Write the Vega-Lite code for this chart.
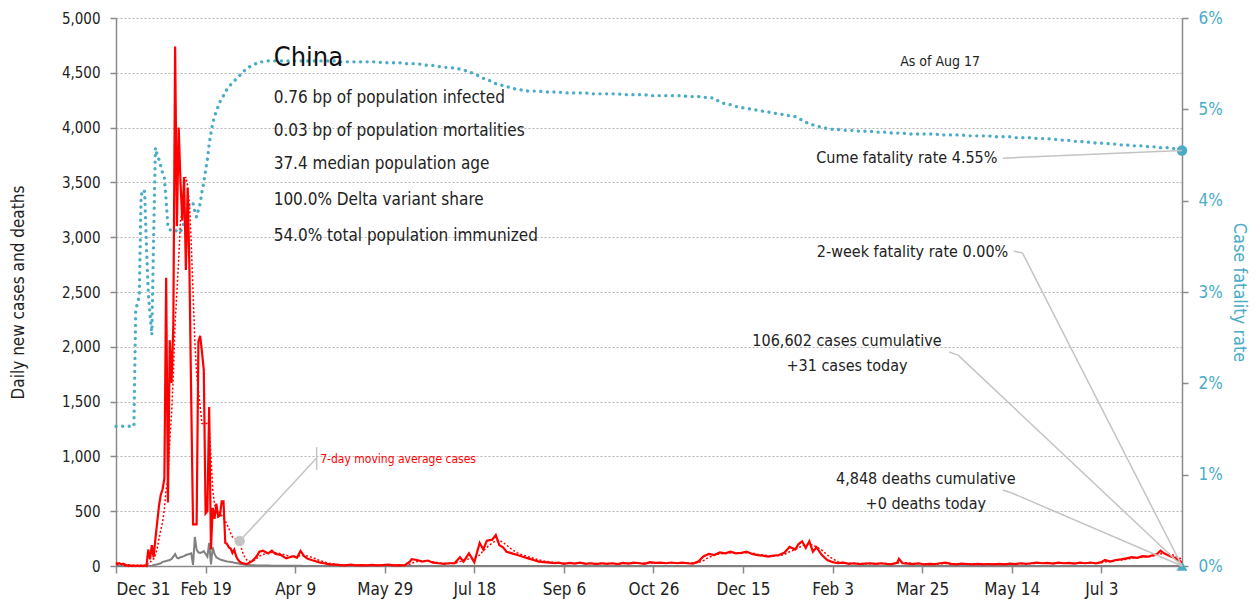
{
  "$schema": "https://vega.github.io/schema/vega-lite/v6.json",
  "width": 1066,
  "height": 548,
  "autosize": {"type": "none"},
  "padding": {"left": 116, "top": 18, "right": 76, "bottom": 39},
  "background": "white",
  "config": {
    "font": "DejaVu Sans Condensed, DejaVu Sans, sans-serif",
    "view": {"stroke": null},
    "axis": {"labelColor": "#222", "titleColor": "#222", "titleFontWeight": "normal", "domainColor": "#8a8a8a", "tickColor": "#8a8a8a", "domainWidth": 1.5, "tickWidth": 1.5}
  },
  "datasets": {
    "daily": [
      {"date": "2019-12-31", "cases": 30, "ma7": 10, "deaths": 0, "cfr": 1.53},
      {"date": "2020-01-01", "cases": 20, "ma7": 15, "deaths": 0, "cfr": 1.53},
      {"date": "2020-01-02", "cases": 25, "ma7": 20, "deaths": 0, "cfr": 1.53},
      {"date": "2020-01-03", "cases": 15, "ma7": 20, "deaths": 0, "cfr": 1.53},
      {"date": "2020-01-04", "cases": 20, "ma7": 22, "deaths": 0, "cfr": 1.53},
      {"date": "2020-01-05", "cases": 5, "ma7": 18, "deaths": 0, "cfr": 1.53},
      {"date": "2020-01-06", "cases": 8, "ma7": 15, "deaths": 0, "cfr": 1.53},
      {"date": "2020-01-07", "cases": 0, "ma7": 12, "deaths": 0, "cfr": 1.53},
      {"date": "2020-01-08", "cases": 5, "ma7": 8, "deaths": 0, "cfr": 1.53},
      {"date": "2020-01-09", "cases": 0, "ma7": 5, "deaths": 0, "cfr": 1.53},
      {"date": "2020-01-10", "cases": 5, "ma7": 4, "deaths": 0, "cfr": 1.53},
      {"date": "2020-01-11", "cases": 0, "ma7": 3, "deaths": 0, "cfr": 2.8},
      {"date": "2020-01-12", "cases": 5, "ma7": 3, "deaths": 0, "cfr": 2.88},
      {"date": "2020-01-13", "cases": 0, "ma7": 2, "deaths": 0, "cfr": 2.95},
      {"date": "2020-01-14", "cases": 5, "ma7": 2, "deaths": 0, "cfr": 4.05},
      {"date": "2020-01-15", "cases": 0, "ma7": 2, "deaths": 0, "cfr": 4.12},
      {"date": "2020-01-16", "cases": 5, "ma7": 2, "deaths": 0, "cfr": 4.1},
      {"date": "2020-01-17", "cases": 0, "ma7": 2, "deaths": 0, "cfr": 3.5},
      {"date": "2020-01-18", "cases": 150, "ma7": 22, "deaths": 0, "cfr": 3.0},
      {"date": "2020-01-19", "cases": 60, "ma7": 30, "deaths": 0, "cfr": 2.75},
      {"date": "2020-01-20", "cases": 190, "ma7": 55, "deaths": 0, "cfr": 2.53},
      {"date": "2020-01-21", "cases": 80, "ma7": 65, "deaths": 10, "cfr": 3.6},
      {"date": "2020-01-22", "cases": 250, "ma7": 100, "deaths": 12, "cfr": 4.58},
      {"date": "2020-01-23", "cases": 400, "ma7": 160, "deaths": 15, "cfr": 4.5},
      {"date": "2020-01-24", "cases": 550, "ma7": 250, "deaths": 20, "cfr": 4.45},
      {"date": "2020-01-25", "cases": 650, "ma7": 330, "deaths": 25, "cfr": 4.38},
      {"date": "2020-01-26", "cases": 700, "ma7": 400, "deaths": 38, "cfr": 4.3},
      {"date": "2020-01-27", "cases": 800, "ma7": 520, "deaths": 42, "cfr": 4.25},
      {"date": "2020-01-28", "cases": 2630, "ma7": 700, "deaths": 45, "cfr": 4.0},
      {"date": "2020-01-29", "cases": 580, "ma7": 790, "deaths": 50, "cfr": 3.72},
      {"date": "2020-01-30", "cases": 2060, "ma7": 1130, "deaths": 55, "cfr": 3.68},
      {"date": "2020-01-31", "cases": 1670, "ma7": 1390, "deaths": 65, "cfr": 3.68},
      {"date": "2020-02-01", "cases": 2200, "ma7": 1740, "deaths": 85, "cfr": 3.69},
      {"date": "2020-02-02", "cases": 4740, "ma7": 2220, "deaths": 110, "cfr": 3.68},
      {"date": "2020-02-03", "cases": 3100, "ma7": 2500, "deaths": 75, "cfr": 3.66},
      {"date": "2020-02-04", "cases": 4000, "ma7": 2800, "deaths": 70, "cfr": 3.65},
      {"date": "2020-02-05", "cases": 3500, "ma7": 3150, "deaths": 80, "cfr": 3.66},
      {"date": "2020-02-06", "cases": 3150, "ma7": 3250, "deaths": 85, "cfr": 3.7},
      {"date": "2020-02-07", "cases": 3550, "ma7": 3480, "deaths": 90, "cfr": 3.76},
      {"date": "2020-02-08", "cases": 2700, "ma7": 3550, "deaths": 100, "cfr": 3.82},
      {"date": "2020-02-09", "cases": 3450, "ma7": 3470, "deaths": 105, "cfr": 3.9},
      {"date": "2020-02-10", "cases": 2700, "ma7": 3300, "deaths": 110, "cfr": 3.97},
      {"date": "2020-02-11", "cases": 1500, "ma7": 2950, "deaths": 115, "cfr": 3.98},
      {"date": "2020-02-12", "cases": 380, "ma7": 2500, "deaths": 10, "cfr": 3.97},
      {"date": "2020-02-13", "cases": 380, "ma7": 2050, "deaths": 265, "cfr": 3.88},
      {"date": "2020-02-14", "cases": 380, "ma7": 1750, "deaths": 150, "cfr": 3.82},
      {"date": "2020-02-15", "cases": 2050, "ma7": 1600, "deaths": 125, "cfr": 3.9},
      {"date": "2020-02-16", "cases": 2100, "ma7": 1450, "deaths": 120, "cfr": 3.97},
      {"date": "2020-02-17", "cases": 1950, "ma7": 1300, "deaths": 125, "cfr": 4.1},
      {"date": "2020-02-18", "cases": 1790, "ma7": 1300, "deaths": 135, "cfr": 4.2},
      {"date": "2020-02-19", "cases": 480, "ma7": 1300, "deaths": 110, "cfr": 4.33},
      {"date": "2020-02-20", "cases": 500, "ma7": 1300, "deaths": 85, "cfr": 4.45},
      {"date": "2020-02-21", "cases": 1450, "ma7": 1280, "deaths": 210, "cfr": 4.62},
      {"date": "2020-02-22", "cases": 150, "ma7": 1000, "deaths": 15, "cfr": 4.74},
      {"date": "2020-02-23", "cases": 530, "ma7": 700, "deaths": 170, "cfr": 4.85},
      {"date": "2020-02-24", "cases": 430, "ma7": 560, "deaths": 110, "cfr": 4.92},
      {"date": "2020-02-25", "cases": 570, "ma7": 520, "deaths": 80, "cfr": 4.98},
      {"date": "2020-02-26", "cases": 450, "ma7": 500, "deaths": 70, "cfr": 5.03},
      {"date": "2020-02-27", "cases": 460, "ma7": 480, "deaths": 60, "cfr": 5.08},
      {"date": "2020-02-28", "cases": 590, "ma7": 460, "deaths": 55, "cfr": 5.12},
      {"date": "2020-02-29", "cases": 590, "ma7": 440, "deaths": 50, "cfr": 5.15},
      {"date": "2020-03-01", "cases": 210, "ma7": 410, "deaths": 45, "cfr": 5.19},
      {"date": "2020-03-02", "cases": 200, "ma7": 380, "deaths": 42, "cfr": 5.22},
      {"date": "2020-03-03", "cases": 170, "ma7": 340, "deaths": 40, "cfr": 5.25},
      {"date": "2020-03-04", "cases": 160, "ma7": 300, "deaths": 37, "cfr": 5.27},
      {"date": "2020-03-05", "cases": 120, "ma7": 265, "deaths": 35, "cfr": 5.29},
      {"date": "2020-03-06", "cases": 150, "ma7": 255, "deaths": 30, "cfr": 5.31},
      {"date": "2020-03-07", "cases": 90, "ma7": 245, "deaths": 28, "cfr": 5.33},
      {"date": "2020-03-08", "cases": 60, "ma7": 232, "deaths": 25, "cfr": 5.35},
      {"date": "2020-03-09", "cases": 40, "ma7": 215, "deaths": 20, "cfr": 5.37},
      {"date": "2020-03-10", "cases": 30, "ma7": 160, "deaths": 17, "cfr": 5.39},
      {"date": "2020-03-11", "cases": 25, "ma7": 110, "deaths": 15, "cfr": 5.41},
      {"date": "2020-03-12", "cases": 20, "ma7": 75, "deaths": 12, "cfr": 5.43},
      {"date": "2020-03-13", "cases": 20, "ma7": 55, "deaths": 10, "cfr": 5.44},
      {"date": "2020-03-14", "cases": 25, "ma7": 45, "deaths": 8, "cfr": 5.46},
      {"date": "2020-03-15", "cases": 35, "ma7": 42, "deaths": 7, "cfr": 5.47},
      {"date": "2020-03-16", "cases": 45, "ma7": 45, "deaths": 6, "cfr": 5.48},
      {"date": "2020-03-17", "cases": 60, "ma7": 50, "deaths": 6, "cfr": 5.49},
      {"date": "2020-03-18", "cases": 80, "ma7": 60, "deaths": 5, "cfr": 5.5},
      {"date": "2020-03-19", "cases": 100, "ma7": 75, "deaths": 5, "cfr": 5.51},
      {"date": "2020-03-20", "cases": 130, "ma7": 90, "deaths": 4, "cfr": 5.52},
      {"date": "2020-03-22", "cases": 140, "ma7": 105, "deaths": 4, "cfr": 5.52},
      {"date": "2020-03-25", "cases": 115, "ma7": 120, "deaths": 4, "cfr": 5.53},
      {"date": "2020-03-27", "cases": 140, "ma7": 125, "deaths": 3, "cfr": 5.53},
      {"date": "2020-03-29", "cases": 110, "ma7": 122, "deaths": 3, "cfr": 5.53},
      {"date": "2020-04-01", "cases": 100, "ma7": 112, "deaths": 3, "cfr": 5.53},
      {"date": "2020-04-04", "cases": 70, "ma7": 98, "deaths": 3, "cfr": 5.53},
      {"date": "2020-04-06", "cases": 80, "ma7": 88, "deaths": 2, "cfr": 5.53},
      {"date": "2020-04-08", "cases": 90, "ma7": 85, "deaths": 2, "cfr": 5.53},
      {"date": "2020-04-10", "cases": 75, "ma7": 88, "deaths": 2, "cfr": 5.53},
      {"date": "2020-04-12", "cases": 137, "ma7": 95, "deaths": 2, "cfr": 5.53},
      {"date": "2020-04-14", "cases": 90, "ma7": 98, "deaths": 1, "cfr": 5.53},
      {"date": "2020-04-16", "cases": 65, "ma7": 90, "deaths": 1, "cfr": 5.53},
      {"date": "2020-04-19", "cases": 50, "ma7": 75, "deaths": 1, "cfr": 5.53},
      {"date": "2020-04-22", "cases": 35, "ma7": 55, "deaths": 1, "cfr": 5.53},
      {"date": "2020-04-25", "cases": 25, "ma7": 38, "deaths": 1, "cfr": 5.53},
      {"date": "2020-04-28", "cases": 15, "ma7": 25, "deaths": 0, "cfr": 5.53},
      {"date": "2020-05-01", "cases": 12, "ma7": 18, "deaths": 0, "cfr": 5.53},
      {"date": "2020-05-04", "cases": 8, "ma7": 12, "deaths": 0, "cfr": 5.52},
      {"date": "2020-05-07", "cases": 5, "ma7": 8, "deaths": 0, "cfr": 5.52},
      {"date": "2020-05-10", "cases": 12, "ma7": 8, "deaths": 0, "cfr": 5.52},
      {"date": "2020-05-13", "cases": 6, "ma7": 8, "deaths": 0, "cfr": 5.52},
      {"date": "2020-05-16", "cases": 8, "ma7": 7, "deaths": 0, "cfr": 5.52},
      {"date": "2020-05-19", "cases": 5, "ma7": 6, "deaths": 0, "cfr": 5.52},
      {"date": "2020-05-22", "cases": 10, "ma7": 6, "deaths": 0, "cfr": 5.52},
      {"date": "2020-05-25", "cases": 5, "ma7": 6, "deaths": 0, "cfr": 5.52},
      {"date": "2020-05-28", "cases": 8, "ma7": 6, "deaths": 0, "cfr": 5.51},
      {"date": "2020-05-31", "cases": 12, "ma7": 7, "deaths": 0, "cfr": 5.51},
      {"date": "2020-06-03", "cases": 5, "ma7": 7, "deaths": 0, "cfr": 5.51},
      {"date": "2020-06-06", "cases": 8, "ma7": 7, "deaths": 0, "cfr": 5.51},
      {"date": "2020-06-09", "cases": 5, "ma7": 6, "deaths": 0, "cfr": 5.5},
      {"date": "2020-06-12", "cases": 40, "ma7": 15, "deaths": 0, "cfr": 5.5},
      {"date": "2020-06-13", "cases": 62, "ma7": 25, "deaths": 0, "cfr": 5.5},
      {"date": "2020-06-16", "cases": 55, "ma7": 40, "deaths": 0, "cfr": 5.5},
      {"date": "2020-06-19", "cases": 40, "ma7": 45, "deaths": 0, "cfr": 5.49},
      {"date": "2020-06-22", "cases": 50, "ma7": 45, "deaths": 0, "cfr": 5.48},
      {"date": "2020-06-25", "cases": 30, "ma7": 38, "deaths": 0, "cfr": 5.48},
      {"date": "2020-06-28", "cases": 25, "ma7": 30, "deaths": 0, "cfr": 5.47},
      {"date": "2020-07-01", "cases": 20, "ma7": 24, "deaths": 0, "cfr": 5.46},
      {"date": "2020-07-04", "cases": 25, "ma7": 22, "deaths": 0, "cfr": 5.46},
      {"date": "2020-07-07", "cases": 25, "ma7": 23, "deaths": 0, "cfr": 5.45},
      {"date": "2020-07-10", "cases": 80, "ma7": 40, "deaths": 0, "cfr": 5.44},
      {"date": "2020-07-12", "cases": 40, "ma7": 50, "deaths": 0, "cfr": 5.43},
      {"date": "2020-07-15", "cases": 115, "ma7": 65, "deaths": 0, "cfr": 5.41},
      {"date": "2020-07-18", "cases": 35, "ma7": 70, "deaths": 0, "cfr": 5.39},
      {"date": "2020-07-21", "cases": 210, "ma7": 100, "deaths": 0, "cfr": 5.36},
      {"date": "2020-07-23", "cases": 150, "ma7": 140, "deaths": 0, "cfr": 5.34},
      {"date": "2020-07-25", "cases": 230, "ma7": 170, "deaths": 0, "cfr": 5.33},
      {"date": "2020-07-28", "cases": 240, "ma7": 210, "deaths": 0, "cfr": 5.3},
      {"date": "2020-07-30", "cases": 283, "ma7": 230, "deaths": 0, "cfr": 5.28},
      {"date": "2020-08-01", "cases": 190, "ma7": 235, "deaths": 0, "cfr": 5.27},
      {"date": "2020-08-03", "cases": 170, "ma7": 215, "deaths": 0, "cfr": 5.26},
      {"date": "2020-08-05", "cases": 130, "ma7": 190, "deaths": 0, "cfr": 5.25},
      {"date": "2020-08-08", "cases": 115, "ma7": 150, "deaths": 0, "cfr": 5.23},
      {"date": "2020-08-11", "cases": 100, "ma7": 120, "deaths": 0, "cfr": 5.22},
      {"date": "2020-08-14", "cases": 85, "ma7": 100, "deaths": 0, "cfr": 5.21},
      {"date": "2020-08-17", "cases": 70, "ma7": 85, "deaths": 0, "cfr": 5.2},
      {"date": "2020-08-20", "cases": 55, "ma7": 70, "deaths": 0, "cfr": 5.2},
      {"date": "2020-08-23", "cases": 40, "ma7": 55, "deaths": 0, "cfr": 5.2},
      {"date": "2020-08-26", "cases": 35, "ma7": 45, "deaths": 0, "cfr": 5.19},
      {"date": "2020-08-29", "cases": 30, "ma7": 38, "deaths": 0, "cfr": 5.19},
      {"date": "2020-09-01", "cases": 25, "ma7": 32, "deaths": 0, "cfr": 5.19},
      {"date": "2020-09-03", "cases": 30, "ma7": 28, "deaths": 0, "cfr": 5.19},
      {"date": "2020-09-06", "cases": 20, "ma7": 26, "deaths": 0, "cfr": 5.18},
      {"date": "2020-09-09", "cases": 28, "ma7": 25, "deaths": 0, "cfr": 5.18},
      {"date": "2020-09-12", "cases": 22, "ma7": 24, "deaths": 0, "cfr": 5.18},
      {"date": "2020-09-15", "cases": 30, "ma7": 25, "deaths": 0, "cfr": 5.18},
      {"date": "2020-09-18", "cases": 20, "ma7": 24, "deaths": 0, "cfr": 5.18},
      {"date": "2020-09-21", "cases": 25, "ma7": 23, "deaths": 0, "cfr": 5.17},
      {"date": "2020-09-24", "cases": 18, "ma7": 22, "deaths": 0, "cfr": 5.17},
      {"date": "2020-09-27", "cases": 25, "ma7": 22, "deaths": 0, "cfr": 5.17},
      {"date": "2020-09-30", "cases": 20, "ma7": 22, "deaths": 0, "cfr": 5.17},
      {"date": "2020-10-03", "cases": 25, "ma7": 22, "deaths": 0, "cfr": 5.17},
      {"date": "2020-10-06", "cases": 18, "ma7": 21, "deaths": 0, "cfr": 5.17},
      {"date": "2020-10-09", "cases": 28, "ma7": 22, "deaths": 0, "cfr": 5.16},
      {"date": "2020-10-12", "cases": 22, "ma7": 23, "deaths": 0, "cfr": 5.16},
      {"date": "2020-10-15", "cases": 30, "ma7": 24, "deaths": 0, "cfr": 5.16},
      {"date": "2020-10-18", "cases": 25, "ma7": 25, "deaths": 0, "cfr": 5.16},
      {"date": "2020-10-21", "cases": 20, "ma7": 24, "deaths": 0, "cfr": 5.16},
      {"date": "2020-10-24", "cases": 35, "ma7": 25, "deaths": 0, "cfr": 5.15},
      {"date": "2020-10-27", "cases": 28, "ma7": 28, "deaths": 0, "cfr": 5.15},
      {"date": "2020-10-30", "cases": 30, "ma7": 28, "deaths": 0, "cfr": 5.15},
      {"date": "2020-11-02", "cases": 25, "ma7": 27, "deaths": 0, "cfr": 5.15},
      {"date": "2020-11-05", "cases": 32, "ma7": 28, "deaths": 0, "cfr": 5.15},
      {"date": "2020-11-08", "cases": 25, "ma7": 28, "deaths": 0, "cfr": 5.15},
      {"date": "2020-11-11", "cases": 30, "ma7": 28, "deaths": 0, "cfr": 5.15},
      {"date": "2020-11-14", "cases": 25, "ma7": 27, "deaths": 0, "cfr": 5.14},
      {"date": "2020-11-17", "cases": 22, "ma7": 26, "deaths": 0, "cfr": 5.14},
      {"date": "2020-11-20", "cases": 40, "ma7": 30, "deaths": 0, "cfr": 5.14},
      {"date": "2020-11-23", "cases": 90, "ma7": 50, "deaths": 0, "cfr": 5.13},
      {"date": "2020-11-26", "cases": 110, "ma7": 80, "deaths": 0, "cfr": 5.13},
      {"date": "2020-11-29", "cases": 100, "ma7": 100, "deaths": 0, "cfr": 5.12},
      {"date": "2020-12-02", "cases": 125, "ma7": 110, "deaths": 0, "cfr": 5.08},
      {"date": "2020-12-05", "cases": 115, "ma7": 115, "deaths": 0, "cfr": 5.06},
      {"date": "2020-12-08", "cases": 130, "ma7": 120, "deaths": 0, "cfr": 5.05},
      {"date": "2020-12-11", "cases": 115, "ma7": 120, "deaths": 0, "cfr": 5.03},
      {"date": "2020-12-14", "cases": 120, "ma7": 118, "deaths": 0, "cfr": 5.02},
      {"date": "2020-12-17", "cases": 130, "ma7": 120, "deaths": 0, "cfr": 5.01},
      {"date": "2020-12-20", "cases": 110, "ma7": 118, "deaths": 0, "cfr": 5.0},
      {"date": "2020-12-23", "cases": 100, "ma7": 108, "deaths": 0, "cfr": 4.99},
      {"date": "2020-12-26", "cases": 95, "ma7": 100, "deaths": 0, "cfr": 4.98},
      {"date": "2020-12-29", "cases": 85, "ma7": 95, "deaths": 0, "cfr": 4.97},
      {"date": "2021-01-01", "cases": 95, "ma7": 92, "deaths": 0, "cfr": 4.96},
      {"date": "2021-01-04", "cases": 100, "ma7": 95, "deaths": 0, "cfr": 4.95},
      {"date": "2021-01-07", "cases": 120, "ma7": 105, "deaths": 0, "cfr": 4.94},
      {"date": "2021-01-10", "cases": 175, "ma7": 130, "deaths": 0, "cfr": 4.93},
      {"date": "2021-01-13", "cases": 150, "ma7": 150, "deaths": 0, "cfr": 4.92},
      {"date": "2021-01-15", "cases": 200, "ma7": 165, "deaths": 0, "cfr": 4.9},
      {"date": "2021-01-17", "cases": 225, "ma7": 185, "deaths": 1, "cfr": 4.88},
      {"date": "2021-01-19", "cases": 165, "ma7": 195, "deaths": 0, "cfr": 4.86},
      {"date": "2021-01-21", "cases": 225, "ma7": 200, "deaths": 0, "cfr": 4.84},
      {"date": "2021-01-23", "cases": 130, "ma7": 190, "deaths": 0, "cfr": 4.83},
      {"date": "2021-01-25", "cases": 170, "ma7": 175, "deaths": 0, "cfr": 4.82},
      {"date": "2021-01-28", "cases": 100, "ma7": 145, "deaths": 0, "cfr": 4.8},
      {"date": "2021-01-31", "cases": 55, "ma7": 100, "deaths": 0, "cfr": 4.79},
      {"date": "2021-02-03", "cases": 35, "ma7": 65, "deaths": 0, "cfr": 4.78},
      {"date": "2021-02-06", "cases": 25, "ma7": 40, "deaths": 0, "cfr": 4.78},
      {"date": "2021-02-09", "cases": 30, "ma7": 30, "deaths": 0, "cfr": 4.77},
      {"date": "2021-02-12", "cases": 20, "ma7": 25, "deaths": 0, "cfr": 4.77},
      {"date": "2021-02-15", "cases": 25, "ma7": 23, "deaths": 0, "cfr": 4.77},
      {"date": "2021-02-18", "cases": 18, "ma7": 22, "deaths": 0, "cfr": 4.76},
      {"date": "2021-02-21", "cases": 22, "ma7": 21, "deaths": 0, "cfr": 4.76},
      {"date": "2021-02-24", "cases": 25, "ma7": 21, "deaths": 0, "cfr": 4.76},
      {"date": "2021-02-27", "cases": 20, "ma7": 21, "deaths": 0, "cfr": 4.75},
      {"date": "2021-03-02", "cases": 25, "ma7": 22, "deaths": 0, "cfr": 4.75},
      {"date": "2021-03-05", "cases": 20, "ma7": 22, "deaths": 0, "cfr": 4.75},
      {"date": "2021-03-08", "cases": 18, "ma7": 20, "deaths": 0, "cfr": 4.74},
      {"date": "2021-03-11", "cases": 30, "ma7": 25, "deaths": 0, "cfr": 4.74},
      {"date": "2021-03-12", "cases": 65, "ma7": 30, "deaths": 0, "cfr": 4.74},
      {"date": "2021-03-14", "cases": 25, "ma7": 32, "deaths": 0, "cfr": 4.74},
      {"date": "2021-03-17", "cases": 22, "ma7": 28, "deaths": 0, "cfr": 4.73},
      {"date": "2021-03-20", "cases": 18, "ma7": 22, "deaths": 0, "cfr": 4.73},
      {"date": "2021-03-23", "cases": 25, "ma7": 21, "deaths": 0, "cfr": 4.73},
      {"date": "2021-03-26", "cases": 15, "ma7": 20, "deaths": 0, "cfr": 4.73},
      {"date": "2021-03-29", "cases": 20, "ma7": 19, "deaths": 0, "cfr": 4.73},
      {"date": "2021-04-01", "cases": 18, "ma7": 18, "deaths": 0, "cfr": 4.73},
      {"date": "2021-04-04", "cases": 25, "ma7": 20, "deaths": 0, "cfr": 4.72},
      {"date": "2021-04-07", "cases": 30, "ma7": 22, "deaths": 0, "cfr": 4.72},
      {"date": "2021-04-10", "cases": 20, "ma7": 22, "deaths": 0, "cfr": 4.72},
      {"date": "2021-04-13", "cases": 15, "ma7": 20, "deaths": 0, "cfr": 4.72},
      {"date": "2021-04-16", "cases": 22, "ma7": 20, "deaths": 0, "cfr": 4.72},
      {"date": "2021-04-19", "cases": 18, "ma7": 19, "deaths": 0, "cfr": 4.71},
      {"date": "2021-04-22", "cases": 15, "ma7": 18, "deaths": 0, "cfr": 4.71},
      {"date": "2021-04-25", "cases": 20, "ma7": 18, "deaths": 0, "cfr": 4.71},
      {"date": "2021-04-28", "cases": 15, "ma7": 17, "deaths": 0, "cfr": 4.71},
      {"date": "2021-05-01", "cases": 18, "ma7": 17, "deaths": 0, "cfr": 4.71},
      {"date": "2021-05-04", "cases": 15, "ma7": 16, "deaths": 0, "cfr": 4.7},
      {"date": "2021-05-07", "cases": 20, "ma7": 17, "deaths": 0, "cfr": 4.7},
      {"date": "2021-05-10", "cases": 15, "ma7": 17, "deaths": 0, "cfr": 4.7},
      {"date": "2021-05-13", "cases": 22, "ma7": 18, "deaths": 0, "cfr": 4.7},
      {"date": "2021-05-16", "cases": 18, "ma7": 19, "deaths": 0, "cfr": 4.69},
      {"date": "2021-05-19", "cases": 25, "ma7": 20, "deaths": 0, "cfr": 4.69},
      {"date": "2021-05-22", "cases": 20, "ma7": 21, "deaths": 0, "cfr": 4.69},
      {"date": "2021-05-25", "cases": 25, "ma7": 22, "deaths": 0, "cfr": 4.69},
      {"date": "2021-05-28", "cases": 30, "ma7": 25, "deaths": 0, "cfr": 4.68},
      {"date": "2021-05-31", "cases": 25, "ma7": 26, "deaths": 0, "cfr": 4.68},
      {"date": "2021-06-03", "cases": 28, "ma7": 26, "deaths": 0, "cfr": 4.68},
      {"date": "2021-06-06", "cases": 22, "ma7": 25, "deaths": 0, "cfr": 4.67},
      {"date": "2021-06-09", "cases": 30, "ma7": 26, "deaths": 0, "cfr": 4.67},
      {"date": "2021-06-12", "cases": 25, "ma7": 26, "deaths": 0, "cfr": 4.66},
      {"date": "2021-06-15", "cases": 28, "ma7": 26, "deaths": 0, "cfr": 4.66},
      {"date": "2021-06-18", "cases": 22, "ma7": 25, "deaths": 0, "cfr": 4.65},
      {"date": "2021-06-21", "cases": 30, "ma7": 26, "deaths": 0, "cfr": 4.65},
      {"date": "2021-06-24", "cases": 25, "ma7": 26, "deaths": 0, "cfr": 4.64},
      {"date": "2021-06-27", "cases": 32, "ma7": 27, "deaths": 0, "cfr": 4.64},
      {"date": "2021-06-30", "cases": 25, "ma7": 28, "deaths": 0, "cfr": 4.63},
      {"date": "2021-07-03", "cases": 35, "ma7": 30, "deaths": 0, "cfr": 4.63},
      {"date": "2021-07-05", "cases": 55, "ma7": 38, "deaths": 0, "cfr": 4.63},
      {"date": "2021-07-08", "cases": 40, "ma7": 42, "deaths": 0, "cfr": 4.62},
      {"date": "2021-07-11", "cases": 55, "ma7": 48, "deaths": 0, "cfr": 4.62},
      {"date": "2021-07-14", "cases": 60, "ma7": 55, "deaths": 0, "cfr": 4.61},
      {"date": "2021-07-17", "cases": 70, "ma7": 62, "deaths": 0, "cfr": 4.61},
      {"date": "2021-07-20", "cases": 80, "ma7": 70, "deaths": 0, "cfr": 4.6},
      {"date": "2021-07-23", "cases": 75, "ma7": 75, "deaths": 0, "cfr": 4.6},
      {"date": "2021-07-26", "cases": 90, "ma7": 80, "deaths": 0, "cfr": 4.6},
      {"date": "2021-07-29", "cases": 85, "ma7": 85, "deaths": 0, "cfr": 4.59},
      {"date": "2021-08-01", "cases": 100, "ma7": 90, "deaths": 0, "cfr": 4.59},
      {"date": "2021-08-03", "cases": 110, "ma7": 100, "deaths": 0, "cfr": 4.59},
      {"date": "2021-08-05", "cases": 140, "ma7": 110, "deaths": 0, "cfr": 4.58},
      {"date": "2021-08-07", "cases": 115, "ma7": 115, "deaths": 0, "cfr": 4.58},
      {"date": "2021-08-09", "cases": 100, "ma7": 112, "deaths": 0, "cfr": 4.58},
      {"date": "2021-08-11", "cases": 85, "ma7": 105, "deaths": 0, "cfr": 4.57},
      {"date": "2021-08-13", "cases": 75, "ma7": 95, "deaths": 0, "cfr": 4.57},
      {"date": "2021-08-15", "cases": 55, "ma7": 80, "deaths": 0, "cfr": 4.56},
      {"date": "2021-08-16", "cases": 45, "ma7": 70, "deaths": 0, "cfr": 4.56},
      {"date": "2021-08-17", "cases": 31, "ma7": 60, "deaths": 0, "cfr": 4.55}
    ]
  },
  "encoding": {
    "x": {
      "field": "date", "type": "temporal",
      "scale": {"type": "utc", "nice": false, "domain": [{"year": 2019, "month": 12, "date": 31, "utc": true}, {"year": 2021, "month": 8, "date": 17, "utc": true}]},
      "axis": {
        "title": null, "grid": false, "format": "%b %-d", "labelFontSize": 17, "tickSize": 7, "labelPadding": 8,
        "values": [
          {"year": 2019, "month": 12, "date": 31, "utc": true},
          {"year": 2020, "month": 2, "date": 19, "utc": true},
          {"year": 2020, "month": 4, "date": 9, "utc": true},
          {"year": 2020, "month": 5, "date": 29, "utc": true},
          {"year": 2020, "month": 7, "date": 18, "utc": true},
          {"year": 2020, "month": 9, "date": 6, "utc": true},
          {"year": 2020, "month": 10, "date": 26, "utc": true},
          {"year": 2020, "month": 12, "date": 15, "utc": true},
          {"year": 2021, "month": 2, "date": 3, "utc": true},
          {"year": 2021, "month": 3, "date": 25, "utc": true},
          {"year": 2021, "month": 5, "date": 14, "utc": true},
          {"year": 2021, "month": 7, "date": 3, "utc": true}
        ]
      }
    }
  },
  "layer": [
    {
      "layer": [
        {
          "data": {"name": "daily"},
          "mark": {"type": "line", "color": "#4BACC6", "strokeWidth": 3.3, "strokeDash": [0.1, 6.5], "strokeCap": "round"},
          "encoding": {
            "y": {
              "field": "cfr", "type": "quantitative",
              "scale": {"domain": [0, 6], "nice": false},
              "axis": {"orient": "right", "title": "Case fatality rate", "values": [0, 1, 2, 3, 4, 5, 6], "labelExpr": "datum.value + '%'", "grid": false, "labelColor": "#4BACC6", "titleColor": "#4BACC6", "labelFontSize": 17, "titleFontSize": 18, "tickSize": 6, "labelPadding": 10, "titlePadding": 7}
            }
          }
        },
        {
          "data": {"values": [{"date": "2021-08-17", "cfr": 4.55}]},
          "mark": {"type": "point", "shape": "circle", "filled": true, "opacity": 1, "color": "#4BACC6", "size": 110},
          "encoding": {"y": {"field": "cfr", "type": "quantitative", "axis": {"title": "Case fatality rate"}}}
        },
        {
          "data": {"values": [{"date": "2021-08-17", "cfr": 0}]},
          "mark": {"type": "point", "shape": "triangle-up", "filled": true, "opacity": 1, "color": "#4BACC6", "size": 120},
          "encoding": {"y": {"field": "cfr", "type": "quantitative", "axis": {"title": "Case fatality rate"}}}
        }
      ]
    },
    {
      "layer": [
        {
          "data": {"name": "daily"},
          "mark": {"type": "line", "color": "#808080", "strokeWidth": 2},
          "encoding": {
            "y": {
              "field": "deaths", "type": "quantitative",
              "scale": {"domain": [0, 5000], "nice": false},
              "axis": {"orient": "left", "title": "Daily new cases and deaths", "values": [0, 500, 1000, 1500, 2000, 2500, 3000, 3500, 4000, 4500, 5000], "format": ",d", "grid": true, "gridColor": "#b4b4b4", "gridDash": [2, 2], "gridWidth": 1.2, "labelFontSize": 15, "titleFontSize": 17, "tickSize": 6, "labelPadding": 10, "titlePadding": 34}
            }
          }
        },
        {
          "data": {"name": "daily"},
          "mark": {"type": "line", "color": "#FF0000", "strokeWidth": 1.5, "strokeDash": [2, 2]},
          "encoding": {"y": {"field": "ma7", "type": "quantitative", "axis": {"title": "Daily new cases and deaths"}}}
        },
        {
          "data": {"name": "daily"},
          "mark": {"type": "line", "color": "#FF0000", "strokeWidth": 2.2},
          "encoding": {"y": {"field": "cases", "type": "quantitative", "axis": {"title": "Daily new cases and deaths"}}}
        },
        {
          "data": {"values": [
            {"date": "2021-05-09", "v": 3721, "date2": "2021-08-17", "v2": 3792},
            {"date": "2021-05-15", "v": 2873, "date2": "2021-05-20", "v2": 2855},
            {"date": "2021-05-20", "v": 2855, "date2": "2021-08-17", "v2": 0},
            {"date": "2021-04-09", "v": 1952, "date2": "2021-04-14", "v2": 1924},
            {"date": "2021-04-14", "v": 1924, "date2": "2021-08-17", "v2": 0},
            {"date": "2021-05-09", "v": 693, "date2": "2021-05-14", "v2": 666},
            {"date": "2021-05-14", "v": 666, "date2": "2021-08-17", "v2": 0},
            {"date": "2020-03-09", "v": 228, "date2": "2020-04-21", "v2": 985},
            {"date": "2020-04-21", "v": 876, "date2": "2020-04-21", "v2": 1085}
          ]},
          "mark": {"type": "rule", "color": "#c4c4c4", "strokeWidth": 1.5},
          "encoding": {
            "x2": {"field": "date2"},
            "y": {"field": "v", "type": "quantitative", "axis": {"title": "Daily new cases and deaths"}},
            "y2": {"field": "v2"}
          }
        },
        {
          "data": {"values": [{"date": "2020-03-09", "v": 228}]},
          "mark": {"type": "point", "shape": "circle", "filled": true, "opacity": 1, "color": "#c4c4c4", "size": 110},
          "encoding": {"y": {"field": "v", "type": "quantitative", "axis": {"title": "Daily new cases and deaths"}}}
        },
        {
          "data": {"values": [{"date": "2020-03-28", "v": 4633, "label": "China"}]},
          "mark": {"type": "text", "align": "left", "baseline": "middle", "fontSize": 27, "color": "#111"},
          "encoding": {"y": {"field": "v", "type": "quantitative", "axis": {"title": "Daily new cases and deaths"}}, "text": {"field": "label"}}
        },
        {
          "data": {"values": [
            {"date": "2020-03-28", "v": 4268, "label": "0.76 bp of population infected"},
            {"date": "2020-03-28", "v": 3968, "label": "0.03 bp of population mortalities"},
            {"date": "2020-03-28", "v": 3667, "label": "37.4 median population age"},
            {"date": "2020-03-28", "v": 3338, "label": "100.0% Delta variant share"},
            {"date": "2020-03-28", "v": 3010, "label": "54.0% total population immunized"}
          ]},
          "mark": {"type": "text", "align": "left", "baseline": "middle", "fontSize": 17, "color": "#222"},
          "encoding": {"y": {"field": "v", "type": "quantitative", "axis": {"title": "Daily new cases and deaths"}}, "text": {"field": "label"}}
        },
        {
          "data": {"values": [{"date": "2021-04-04", "v": 4597, "label": "As of Aug 17"}]},
          "mark": {"type": "text", "align": "center", "baseline": "middle", "fontSize": 14, "color": "#222"},
          "encoding": {"y": {"field": "v", "type": "quantitative", "axis": {"title": "Daily new cases and deaths"}}, "text": {"field": "label"}}
        },
        {
          "data": {"values": [
            {"date": "2021-05-06", "v": 3721, "label": "Cume fatality rate 4.55%"},
            {"date": "2021-05-12", "v": 2864, "label": "2-week fatality rate 0.00%"}
          ]},
          "mark": {"type": "text", "align": "right", "baseline": "middle", "fontSize": 16, "color": "#222"},
          "encoding": {"y": {"field": "v", "type": "quantitative", "axis": {"title": "Daily new cases and deaths"}}, "text": {"field": "label"}}
        },
        {
          "data": {"values": [
            {"date": "2021-02-11", "v": 2052, "label": "106,602 cases cumulative"},
            {"date": "2021-02-11", "v": 1824, "label": "+31 cases today"},
            {"date": "2021-03-27", "v": 793, "label": "4,848 deaths cumulative"},
            {"date": "2021-03-27", "v": 565, "label": "+0 deaths today"}
          ]},
          "mark": {"type": "text", "align": "center", "baseline": "middle", "fontSize": 16, "color": "#222"},
          "encoding": {"y": {"field": "v", "type": "quantitative", "axis": {"title": "Daily new cases and deaths"}}, "text": {"field": "label"}}
        },
        {
          "data": {"values": [{"date": "2020-04-23", "v": 976, "label": "7-day moving average cases"}]},
          "mark": {"type": "text", "align": "left", "baseline": "middle", "fontSize": 12, "color": "#FF0000"},
          "encoding": {"y": {"field": "v", "type": "quantitative", "axis": {"title": "Daily new cases and deaths"}}, "text": {"field": "label"}}
        }
      ]
    }
  ],
  "resolve": {"scale": {"y": "independent"}}
}
